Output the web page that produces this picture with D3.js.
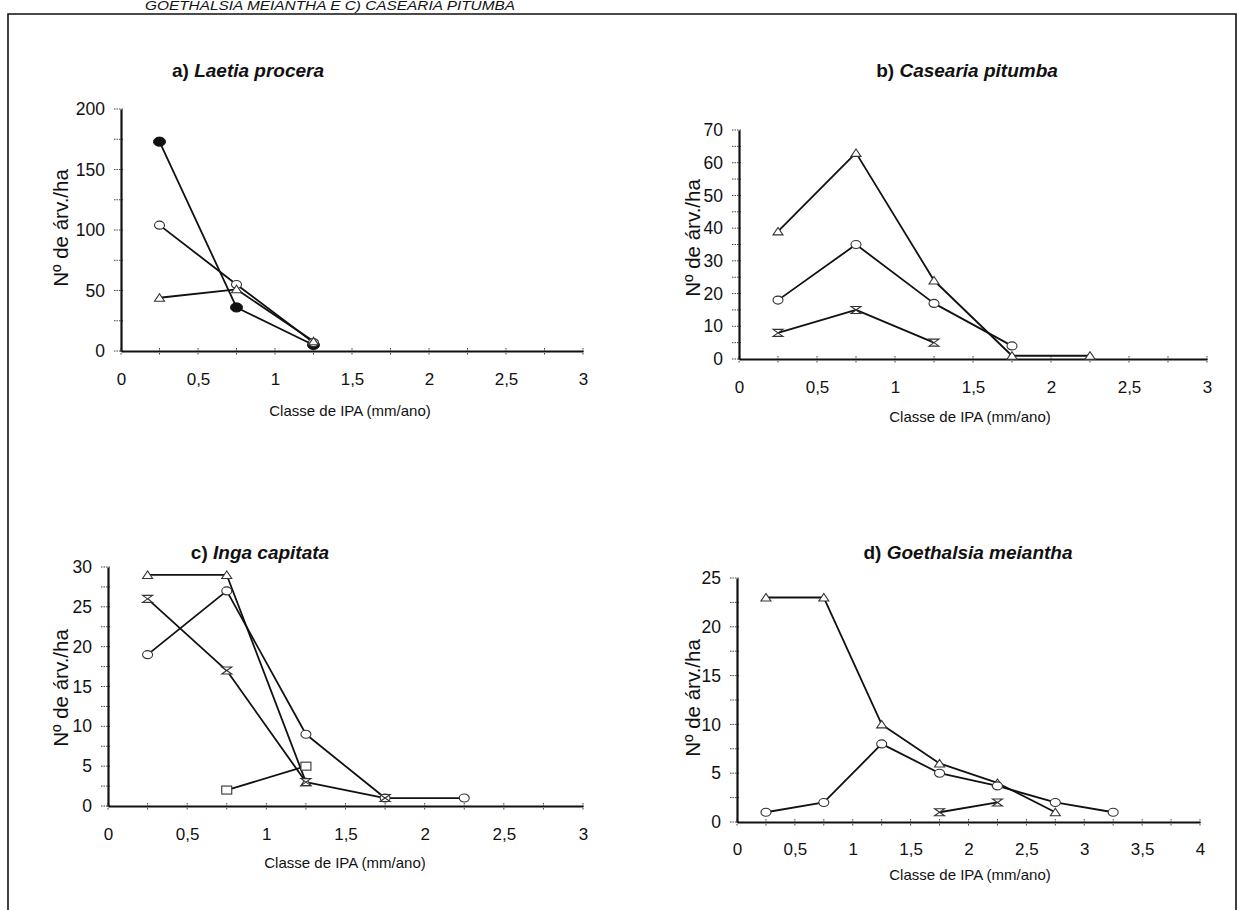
<!DOCTYPE html>
<html>
<head>
<meta charset="utf-8">
<script src="https://cdn.jsdelivr.net/npm/d3@7"></script>
<style>
  html, body { margin: 0; padding: 0; background: #fff; }
  svg { display: block; }
  text { font-family: "Liberation Sans", Arial, sans-serif; fill: #111; }
</style>
</head>
<body>
<svg id="fig" width="1238" height="910"></svg>
<script>
// IPA classes (mm/ano), class midpoints
const ipaClasses = [0.25, 0.75, 1.25, 1.75, 2.25, 2.75, 3.25];

// a) Laetia procera — Nº de árv./ha per class
const laetiaFilledCircle = [173, 36, 5];
const laetiaOpenCircle   = [104, 55, 7];
const laetiaTriangle     = [44, 51, 8];

// b) Casearia pitumba
const caseariaTriangle  = [39, 63, 24, 1, 1];
const caseariaCircle    = [18, 35, 17, 4];
const caseariaHourglass = [8, 15, 5];

// c) Inga capitata
const ingaTriangle  = [29, 29, 3];
const ingaCircle    = [19, 27, 9, 1, 1];
const ingaHourglass = [26, 17, 3, 1];
const ingaSquare    = [null, 2, 5];

// d) Goethalsia meiantha
const goethTriangle  = [23, 23, 10, 6, 4, 1];
const goethCircle    = [1, 2, 8, 5, 3.7, 2, 1];
const goethHourglass = [null, null, null, 1, 2];

// axis tick values
const yTicksA = [0, 50, 100, 150, 200];
const yTicksB = [0, 10, 20, 30, 40, 50, 60, 70];
const yTicksC = [0, 5, 10, 15, 20, 25, 30];
const yTicksD = [0, 5, 10, 15, 20, 25];
const xTicks3 = [0, 0.5, 1, 1.5, 2, 2.5, 3];
const xTicks4 = [0, 0.5, 1, 1.5, 2, 2.5, 3, 3.5, 4];

const xTitle = "Classe de IPA (mm/ano)";
const yTitle = "Nº de árv./ha";
const headerText = "GOETHALSIA MEIANTHA E C) CASEARIA PITUMBA";

const svg = d3.select("#fig");

// page frame and running header
svg.append("text")
  .attr("x", 145).attr("y", 10)
  .attr("font-size", 12).attr("font-style", "italic")
  .attr("textLength", 370).attr("lengthAdjust", "spacingAndGlyphs")
  .text(headerText);
svg.append("path")
  .attr("d", "M8,910 V14 H1236 V910")
  .attr("fill", "none").attr("stroke", "#111").attr("stroke-width", 1.6);

const fmt = v => String(v).replace(".", ",");

// marker shapes
const markers = {
  filled(g) {
    g.append("ellipse").attr("rx", 6).attr("ry", 4.6)
      .attr("fill", "#111").attr("stroke", "#111");
  },
  circle(g) {
    g.append("ellipse").attr("rx", 5).attr("ry", 4)
      .attr("fill", "#fff").attr("stroke", "#333").attr("stroke-width", 1.1);
  },
  triangle(g) {
    g.append("path").attr("d", "M-5,3.5 L5,3.5 L0,-4 Z")
      .attr("fill", "#fff").attr("stroke", "#333").attr("stroke-width", 1.1);
  },
  hourglass(g) {
    g.append("path").attr("d", "M-5,-3.5 L5,-3.5 L-5,3.5 L5,3.5 Z")
      .attr("fill", "#fff").attr("stroke", "#333").attr("stroke-width", 1.1);
  },
  square(g) {
    g.append("rect").attr("x", -5).attr("y", -4).attr("width", 10).attr("height", 8)
      .attr("fill", "#fff").attr("stroke", "#333").attr("stroke-width", 1.1);
  }
};

function drawPanel(p) {
  const x = d3.scaleLinear().domain(p.xDomain).range([p.left, p.right]);
  const y = d3.scaleLinear().domain(p.yDomain).range([p.bottom, p.top]);
  const g = svg.append("g");

  // title: "a)" plus italic species name
  const t = g.append("text")
    .attr("x", p.titleX).attr("y", p.titleY)
    .attr("text-anchor", "middle")
    .attr("font-size", 19).attr("font-weight", "bold");
  t.append("tspan").text(p.label + " ");
  t.append("tspan").attr("font-style", "italic").text(p.species);

  // minor ticks on x (every 0.25) and y (half-steps)
  const xMinor = d3.range(p.xDomain[0], p.xDomain[1] + 0.001, 0.25);
  const yStep = p.yTicks[1] - p.yTicks[0];
  const yMinor = d3.range(p.yDomain[0], p.yDomain[1] + 0.001, yStep / 2);

  g.append("g").selectAll("line").data(xMinor).join("line")
    .attr("x1", d => x(d)).attr("x2", d => x(d))
    .attr("y1", p.bottom - 3).attr("y2", p.bottom + 4)
    .attr("stroke", "#444").attr("stroke-width", 1)
    .attr("stroke-dasharray", "1.5,1");
  g.append("g").selectAll("line").data(yMinor).join("line")
    .attr("x1", p.left - 7).attr("x2", p.left + 2)
    .attr("y1", d => y(d)).attr("y2", d => y(d))
    .attr("stroke", "#444").attr("stroke-width", 1)
    .attr("stroke-dasharray", "1.5,1");

  // axes via d3 axis generators; tick labels use comma decimals
  const xAxis = d3.axisBottom(x).tickValues(p.xTicks).tickFormat(fmt)
    .tickSizeInner(0).tickSizeOuter(0).tickPadding(p.xPad);
  const xg = g.append("g").attr("transform", `translate(0,${p.bottom})`).call(xAxis);
  xg.select(".domain").attr("stroke", "#111").attr("stroke-width", 2);
  xg.selectAll("text").attr("font-size", 17).attr("fill", "#111")
    .attr("font-family", '"Liberation Sans", Arial, sans-serif');

  const yAxis = d3.axisLeft(y).tickValues(p.yTicks)
    .tickSizeInner(0).tickSizeOuter(0).tickPadding(16);
  const yg = g.append("g").attr("transform", `translate(${p.left},0)`).call(yAxis);
  yg.select(".domain").attr("stroke", "#111").attr("stroke-width", 2.2);
  yg.selectAll("text").attr("font-size", 17.5).attr("fill", "#111")
    .attr("font-family", '"Liberation Sans", Arial, sans-serif');

  // axis titles
  g.append("text")
    .attr("x", p.xTitleX).attr("y", p.xTitleY)
    .attr("text-anchor", "middle").attr("font-size", 15)
    .text(xTitle);
  g.append("text")
    .attr("transform", `translate(${p.yTitleX},${p.yTitleY}) rotate(-90)`)
    .attr("text-anchor", "middle").attr("font-size", 20.5)
    .text(yTitle);

  // series lines
  const line = d3.line()
    .defined(d => d.v != null)
    .x(d => x(d.c)).y(d => y(d.v));

  p.series.forEach(s => {
    const pts = s.values.map((v, i) => ({ c: ipaClasses[i], v }));
    g.append("path").datum(pts)
      .attr("d", line)
      .attr("fill", "none").attr("stroke", "#111")
      .attr("stroke-width", 1.8).attr("stroke-linejoin", "round");
  });
  p.series.forEach(s => {
    const pts = s.values.map((v, i) => ({ c: ipaClasses[i], v })).filter(d => d.v != null);
    pts.forEach(d => {
      const m = g.append("g").attr("transform", `translate(${x(d.c)},${y(d.v)})`);
      markers[s.marker](m);
    });
  });
}

drawPanel({
  label: "a)", species: "Laetia procera", titleX: 248, titleY: 77,
  left: 121, right: 583, top: 109, bottom: 351,
  xDomain: [0, 3], yDomain: [0, 200], xTicks: xTicks3, yTicks: yTicksA, xPad: 22,
  xTitleX: 350, xTitleY: 416, yTitleX: 68, yTitleY: 228,
  series: [
    { values: laetiaFilledCircle, marker: "filled" },
    { values: laetiaOpenCircle, marker: "circle" },
    { values: laetiaTriangle, marker: "triangle" }
  ]
});

drawPanel({
  label: "b)", species: "Casearia pitumba", titleX: 967, titleY: 77,
  left: 739, right: 1207, top: 130, bottom: 359,
  xDomain: [0, 3], yDomain: [0, 70], xTicks: xTicks3, yTicks: yTicksB, xPad: 22,
  xTitleX: 970, xTitleY: 422, yTitleX: 700, yTitleY: 238,
  series: [
    { values: caseariaTriangle, marker: "triangle" },
    { values: caseariaCircle, marker: "circle" },
    { values: caseariaHourglass, marker: "hourglass" }
  ]
});

drawPanel({
  label: "c)", species: "Inga capitata", titleX: 260, titleY: 559,
  left: 108, right: 583, top: 567, bottom: 806,
  xDomain: [0, 3], yDomain: [0, 30], xTicks: xTicks3, yTicks: yTicksC, xPad: 22,
  xTitleX: 345, xTitleY: 868, yTitleX: 68, yTitleY: 688,
  series: [
    { values: ingaTriangle, marker: "triangle" },
    { values: ingaCircle, marker: "circle" },
    { values: ingaHourglass, marker: "hourglass" },
    { values: ingaSquare, marker: "square" }
  ]
});

drawPanel({
  label: "d)", species: "Goethalsia meiantha", titleX: 968, titleY: 559,
  left: 737, right: 1200, top: 578, bottom: 822,
  xDomain: [0, 4], yDomain: [0, 25], xTicks: xTicks4, yTicks: yTicksD, xPad: 21,
  xTitleX: 970, xTitleY: 880, yTitleX: 700, yTitleY: 698,
  series: [
    { values: goethTriangle, marker: "triangle" },
    { values: goethCircle, marker: "circle" },
    { values: goethHourglass, marker: "hourglass" }
  ]
});
</script>
</body>
</html>
